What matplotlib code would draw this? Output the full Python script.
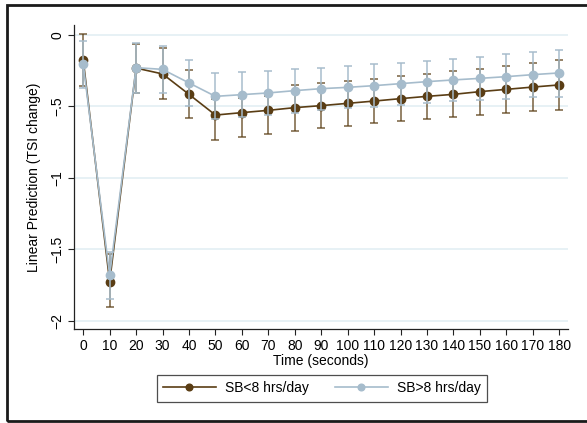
import matplotlib.pyplot as plt
from matplotlib.patches import Rectangle

plt.rcParams['font.family'] = ['Liberation Sans', 'DejaVu Sans']

times = [0, 10, 20, 30, 40, 50, 60, 70, 80, 90, 100, 110, 120, 130, 140, 150, 160, 170, 180]

# SB<8 hrs/day
low_mean = [-0.175, -1.728, -0.232, -0.273, -0.416, -0.561, -0.544, -0.528, -0.509, -0.495, -0.479,
            -0.463, -0.446, -0.430, -0.416, -0.397, -0.381, -0.365, -0.350]
low_hi = [0.005, -1.535, -0.060, -0.088, -0.245, -0.451, -0.439, -0.425, -0.350, -0.334, -0.320,
          -0.306, -0.290, -0.271, -0.255, -0.236, -0.215, -0.194, -0.175]
low_lo = [-0.357, -1.908, -0.404, -0.446, -0.584, -0.736, -0.713, -0.694, -0.673, -0.654, -0.638,
          -0.619, -0.603, -0.587, -0.572, -0.559, -0.547, -0.533, -0.523]

# SB>8 hrs/day
high_mean = [-0.205, -1.684, -0.229, -0.241, -0.336, -0.430, -0.418, -0.406, -0.390, -0.376, -0.367,
             -0.355, -0.341, -0.327, -0.315, -0.304, -0.292, -0.278, -0.266]
high_hi = [-0.040, -1.518, -0.054, -0.075, -0.178, -0.264, -0.257, -0.250, -0.240, -0.229, -0.219,
           -0.205, -0.194, -0.182, -0.166, -0.154, -0.135, -0.121, -0.103]
high_lo = [-0.374, -1.852, -0.404, -0.404, -0.497, -0.591, -0.577, -0.560, -0.544, -0.528, -0.514,
           -0.502, -0.488, -0.477, -0.465, -0.455, -0.446, -0.437, -0.432]

brown = '#5a3d14'
blue = '#a6bccc'

fig = plt.figure(figsize=(5.87, 4.23), dpi=100)
fig.patches.append(Rectangle((0.012, 0.005), 1.2, 0.983, transform=fig.transFigure,
                             fill=False, edgecolor='#1a1a1a', linewidth=2))
ax = fig.add_axes([0.126, 0.222, 0.842, 0.719])

for mean, hi, lo, col, err_alpha, lab in [(low_mean, low_hi, low_lo, brown, 0.75, 'SB<8 hrs/day'),
                                          (high_mean, high_hi, high_lo, blue, 0.9, 'SB>8 hrs/day')]:
    yerr = [[m - l for m, l in zip(mean, lo)], [h - m for m, h in zip(mean, hi)]]
    ax.errorbar(times, mean, yerr=yerr, fmt='none', ecolor=col, alpha=err_alpha,
                elinewidth=1.2, capsize=3, capthick=1.2)
    ax.plot(times, mean, color=col, marker='o', markersize=6, linewidth=1.2, label=lab)

ax.set_xlim(-3.5, 183.4)
ax.set_ylim(-2.06, 0.07)
ax.set_xticks(times)
ax.set_yticks([0, -0.5, -1, -1.5, -2])
ax.set_yticklabels(['0', '\u2212.5', '\u22121', '\u22121.5', '\u22122'], rotation=90, va='center')
ax.tick_params(labelsize=10, length=4, width=0.8, color='#222222', pad=3)
for y in [0, -0.5, -1, -1.5, -2]:
    ax.axhline(y, color='#e3eff3', linewidth=1.2, zorder=0)

for s in ['top', 'right']:
    ax.spines[s].set_visible(False)
for s in ['left', 'bottom']:
    ax.spines[s].set_linewidth(0.9)
    ax.spines[s].set_color('#222222')

ax.set_xlabel('Time (seconds)', fontsize=10, labelpad=1)
ax.set_ylabel('Linear Prediction (TSI change)', fontsize=10, labelpad=7)

leg = fig.legend(loc='center', bbox_to_anchor=(0.548, 0.082), ncol=2, fontsize=10,
                 frameon=True, fancybox=False, edgecolor='#222222', handlelength=3.8,
                 columnspacing=1.9, borderpad=0.45, handletextpad=0.65, markerscale=0.8,
                 borderaxespad=0)
leg.get_frame().set_linewidth(0.9)

fig.savefig('out.png', dpi=100)
